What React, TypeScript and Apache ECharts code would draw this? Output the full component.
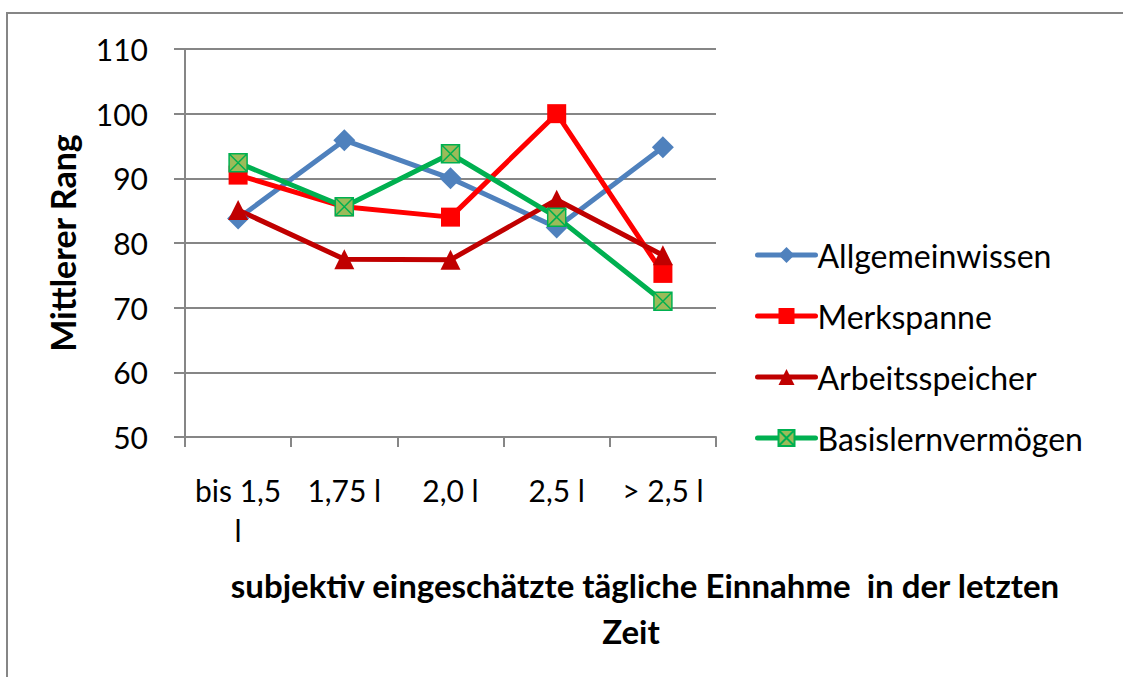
import React, { useEffect, useRef } from "react";
import * as echarts from "echarts";

const categories = ["bis 1,5\nl", "1,75 l", "2,0 l", "2,5 l", "> 2,5 l"];
const allgemeinwissen = [83.8, 95.9, 90.0, 82.4, 94.8];
const merkspanne = [90.5, 85.6, 84.0, 100.0, 75.3];
const arbeitsspeicher = [85.1, 77.5, 77.4, 86.7, 78.1];
const basislernvermoegen = [92.4, 85.6, 93.8, 84.0, 71.0];
const yTicks = { min: 50, max: 110, interval: 10 };
const xTitleLines = ["subjektiv eingeschätzte tägliche Einnahme  in der letzten", "Zeit"];

const FONT = "Lato, 'Open Sans', sans-serif";
const GREY = "#868686";
const XBOX = "path://M0,0 L10,0 L10,10 L0,10 Z M0,0 L10,10 M10,0 L0,10";

export default function App() {
  const ref = useRef<HTMLDivElement>(null);
  useEffect(() => {
    if (!ref.current) return;
    const chart = echarts.init(ref.current, null, { renderer: "svg" });
    const lineSeries = (name: string, data: number[], color: string, symbol: string, size: number) => ({
      name,
      type: "line",
      data,
      symbol,
      symbolSize: size,
      lineStyle: { color, width: 5 },
      itemStyle: { color },
    });
    const titleStyle = {
      fontFamily: FONT,
      fontSize: 33,
      fontWeight: "bold",
      color: "#000",
      lineHeight: 40,
    };
    chart.setOption({
      animation: false,
      backgroundColor: "#ffffff",
      textStyle: { fontFamily: FONT },
      graphic: [
        {
          type: "rect",
          shape: { x: 7, y: 13, width: 1200, height: 800 },
          style: { fill: "none", stroke: GREY, lineWidth: 2 },
          silent: true,
        },
      ],
      title: [
        { text: xTitleLines[0], left: 645, top: 565, textAlign: "center", padding: 0, textStyle: titleStyle },
        { text: xTitleLines[1], left: 631, top: 611, textAlign: "center", padding: 0, textStyle: titleStyle },
      ],
      grid: { left: 185, right: 407, top: 49, bottom: 240 },
      legend: {
        orient: "vertical",
        left: 750,
        top: 233,
        itemGap: 27,
        itemWidth: 58,
        itemHeight: 20,
        lineStyle: { width: 5, cap: "round" },
        textStyle: {
          fontFamily: FONT,
          fontSize: 32,
          lineHeight: 34,
          color: "#000",
          padding: [0, 0, 0, -3],
        },
        data: ["Allgemeinwissen", "Merkspanne", "Arbeitsspeicher", "Basislernvermögen"],
      },
      xAxis: {
        type: "category",
        data: categories,
        boundaryGap: true,
        axisLine: { lineStyle: { color: GREY, width: 2 } },
        axisTick: { show: true, length: 10, lineStyle: { color: GREY, width: 2 } },
        axisLabel: {
          color: "#000",
          fontFamily: FONT,
          fontSize: 30,
          margin: 33,
          lineHeight: 40,
          interval: 0,
        },
      },
      yAxis: {
        type: "value",
        min: yTicks.min,
        max: yTicks.max,
        interval: yTicks.interval,
        name: "Mittlerer Rang",
        nameLocation: "middle",
        nameGap: 106,
        nameTextStyle: { fontFamily: FONT, fontSize: 34, fontWeight: "bold", color: "#000" },
        axisLine: { show: true, lineStyle: { color: GREY, width: 2 } },
        axisTick: { show: true, length: 11, lineStyle: { color: GREY, width: 2 } },
        splitLine: { lineStyle: { color: GREY, width: 2 } },
        axisLabel: { color: "#000", fontFamily: FONT, fontSize: 30, margin: 37 },
      },
      series: [
        lineSeries("Allgemeinwissen", allgemeinwissen, "#4F81BD", "diamond", 22),
        lineSeries("Merkspanne", merkspanne, "#FF0000", "rect", 19),
        lineSeries("Arbeitsspeicher", arbeitsspeicher, "#C00000", "triangle", 20),
        {
          ...lineSeries("Basislernvermögen", basislernvermoegen, "#00B050", XBOX, 18),
          itemStyle: { color: "#9BBB59", borderColor: "#00B050", borderWidth: 1.5 },
        },
      ],
    });
    return () => chart.dispose();
  }, []);
  return (
    <div
      ref={ref}
      style={{ position: "fixed", left: 0, top: 0, width: 1123, height: 677 }}
    />
  );
}
